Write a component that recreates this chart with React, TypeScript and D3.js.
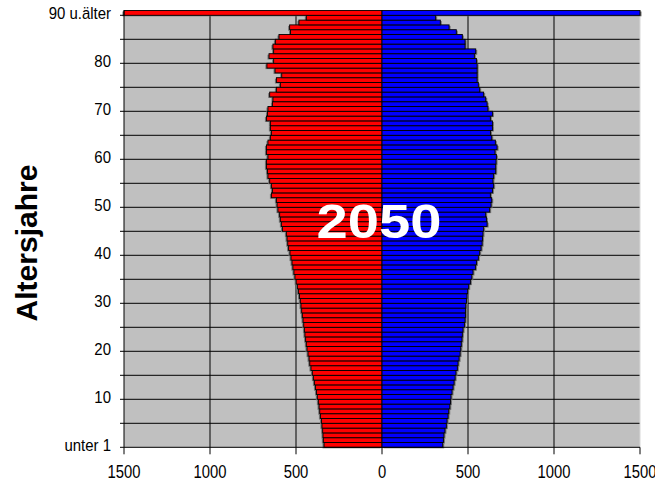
import React from "react";
import * as d3 from "d3";

const ageLabels: string[] = Array.from({ length: 91 }, (_, i) =>
  i === 0 ? "unter 1" : i === 90 ? "90 u.älter" : String(i)
);

// left (red) bars, age 0 .. 90+
const leftValues: number[] = [
  337, 341, 343, 345, 349, 352, 358, 362, 366, 370,
  376, 381, 387, 393, 399, 405, 413, 420, 424, 430,
  436, 440, 444, 448, 451, 455, 459, 463, 467, 471,
  475, 480, 486, 492, 499, 506, 512, 518, 523, 529,
  535, 543, 548, 552, 556, 579, 585, 591, 595, 605,
  610, 614, 643, 637, 643, 653, 663, 666, 672, 672,
  663, 672, 672, 663, 649, 643, 649, 649, 672, 666,
  663, 637, 634, 653, 614, 591, 614, 583, 622, 669,
  630, 657, 630, 634, 620, 599, 532, 537, 483, 440,
  1500,
];

// right (blue) bars, age 0 .. 90+
const rightValues: number[] = [
  353, 357, 360, 366, 374, 378, 384, 388, 394, 398,
  401, 407, 413, 419, 425, 430, 438, 442, 448, 454,
  458, 461, 465, 467, 471, 479, 483, 485, 485, 487,
  491, 494, 498, 504, 514, 522, 529, 543, 549, 560,
  568, 576, 582, 584, 587, 591, 611, 607, 603, 626,
  634, 638, 630, 642, 649, 645, 649, 661, 661, 663,
  665, 657, 669, 659, 638, 631, 642, 642, 630, 642,
  616, 611, 603, 591, 568, 560, 553, 553, 553, 553,
  549, 537, 545, 483, 483, 467, 432, 390, 339, 312,
  1500,
];

const xTicks: number[] = [-1500, -1000, -500, 0, 500, 1000, 1500];
const labelAges: number[] = [0, 10, 20, 30, 40, 50, 60, 70, 80, 90];
const yAxisTitle = "Altersjahre";
const yearLabel = "2050";

export default function App() {
  const W = 655;
  const H = 491;
  const left = 124;
  const right = 640;
  const top = 10.5;
  const bottom = 447.3;

  const x = d3.scaleLinear().domain([-1500, 1500]).range([left, right]).clamp(true);
  const idx = d3.range(ageLabels.length);
  const y = d3
    .scaleBand<number>()
    .domain([...idx].reverse())
    .range([top, bottom])
    .paddingInner(0)
    .paddingOuter(0);
  const bw = y.bandwidth();

  const hGrid = d3.range(5, 91, 5).map((a) => (y(a) as number) + bw);

  return (
    <svg
      width={W}
      height={H}
      style={{ position: "absolute", left: 0, top: 0, background: "#fff" }}
      fontFamily="'Liberation Sans', Arial, sans-serif"
    >
      <rect x={left} y={top} width={right - left} height={bottom - top} fill="#C0C0C0" />
      {[-1000, -500, 500, 1000].map((v) => (
        <line key={v} x1={x(v)} x2={x(v)} y1={top} y2={bottom} stroke="#000" strokeWidth={1} />
      ))}
      {hGrid.map((gy, i) => (
        <line key={i} x1={left} x2={right} y1={gy} y2={gy} stroke="#000" strokeWidth={1} />
      ))}
      <line x1={right} x2={right} y1={top} y2={bottom} stroke="#d8d8d8" strokeWidth={1} />

      {idx.map((a) => {
        const yy = (y(a) as number) + 1;
        return (
          <g key={"s" + a}>
            <rect x={x(-leftValues[a]) - 1.5} y={yy} width={x(0) - x(-leftValues[a])} height={bw} fill="#707070" />
            <rect x={x(0) + 1.5} y={yy} width={x(rightValues[a]) - x(0)} height={bw} fill="#707070" />
          </g>
        );
      })}
      {idx.map((a) => {
        const yy = y(a) as number;
        return (
          <g key={"b" + a}>
            <rect
              x={x(-leftValues[a])}
              y={yy}
              width={x(0) - x(-leftValues[a])}
              height={bw}
              fill="#FF0000"
              stroke="#000"
              strokeWidth={0.9}
            />
            <rect
              x={x(0)}
              y={yy}
              width={x(rightValues[a]) - x(0)}
              height={bw}
              fill="#0000FF"
              stroke="#000"
              strokeWidth={0.9}
            />
          </g>
        );
      })}

      <line x1={left} x2={left} y1={top} y2={bottom} stroke="#000" strokeWidth={1} />
      <line x1={left} x2={right} y1={bottom} y2={bottom} stroke="#000" strokeWidth={1} />
      {[...hGrid, bottom].map((gy, i) => (
        <line key={"lt" + i} x1={left - 4} x2={left} y1={gy} y2={gy} stroke="#000" strokeWidth={1} />
      ))}
      {xTicks.map((v) => (
        <g key={"xt" + v}>
          <line x1={x(v)} x2={x(v)} y1={bottom} y2={bottom + 7} stroke="#000" strokeWidth={1} />
          <text
            transform={`translate(${x(v)},478) scale(0.8,1)`}
            textAnchor="middle"
            fontSize={18.5}
            fill="#000"
          >
            {Math.abs(v)}
          </text>
        </g>
      ))}
      {labelAges.map((a) => (
        <text
          key={"yl" + a}
          transform={`translate(111,${(y(a) as number) + bw / 2 + 6.5}) scale(0.88,1)`}
          textAnchor="end"
          fontSize={17}
          fill="#000"
        >
          {ageLabels[a]}
        </text>
      ))}

      <text
        transform="translate(37,243) rotate(-90)"
        textAnchor="middle"
        fontSize={30}
        fontWeight="bold"
        fill="#000"
      >
        {yAxisTitle}
      </text>

      <text
        x={379}
        y={238.3}
        textAnchor="middle"
        fontSize={49}
        fontWeight="bold"
        fill="#fff"
        textLength={125}
        lengthAdjust="spacingAndGlyphs"
      >
        {yearLabel}
      </text>
    </svg>
  );
}
